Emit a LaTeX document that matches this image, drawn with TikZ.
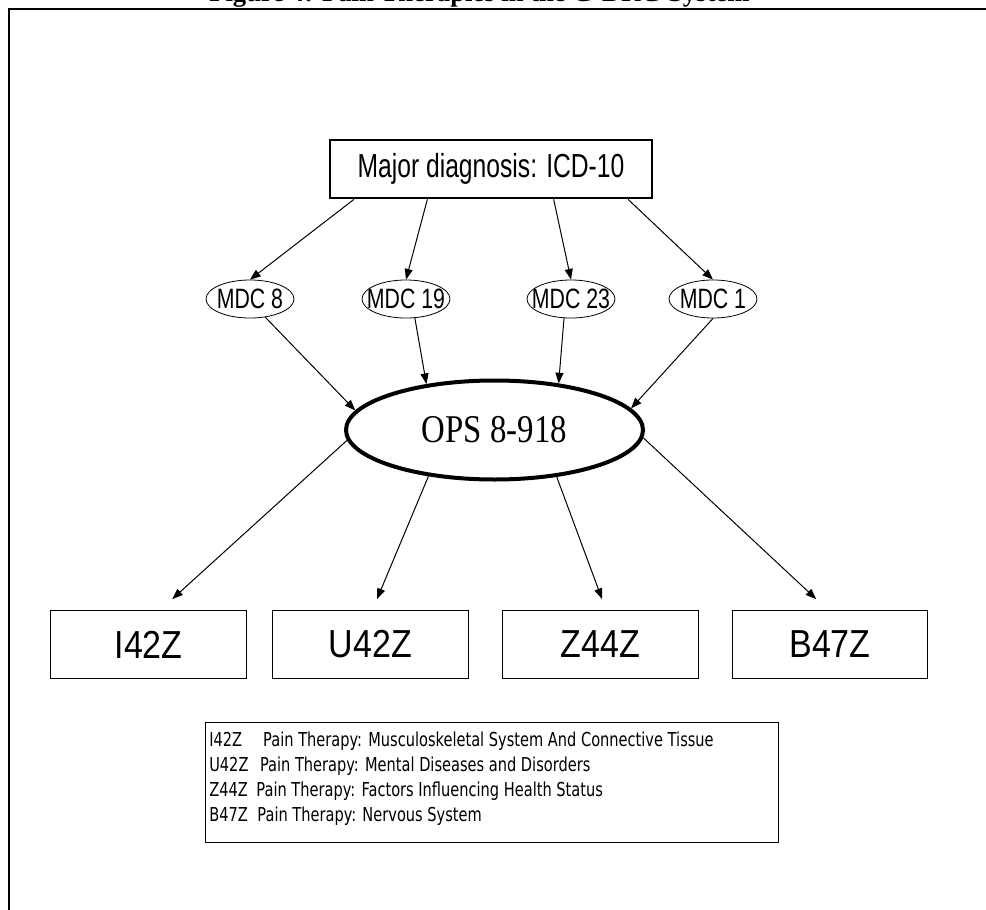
\documentclass[tikz,border=0pt]{standalone}
\usepackage{fontspec}
\setmainfont{Liberation Serif}
\newfontfamily\arialx[FakeStretch=0.74]{Liberation Sans}
\newfontfamily\arialm[FakeStretch=0.76]{Liberation Sans}
\newfontfamily\arialb[FakeStretch=0.87]{Liberation Sans}
\newfontfamily\timesx[FakeStretch=0.835]{Liberation Serif}
\newfontfamily\tahomax[FakeStretch=0.76]{DejaVu Sans}
\usetikzlibrary{shapes.geometric,arrows.meta,calc}
\begin{document}
\begin{tikzpicture}[x=0.75pt,y=-0.75pt,
  arr/.style={-{Triangle[length=8pt,width=6pt]}, line width=0.75pt},
  mdc/.style={ellipse, draw, line width=0.6pt, minimum width=66pt, minimum height=28.5pt, inner sep=0pt},
  mdctext/.style={font=\arialm\fontsize{21}{24}\selectfont},
  drg/.style={rectangle, draw, line width=0.9pt, minimum width=146.8pt, minimum height=50.7pt, inner sep=0pt, font=\arialb\fontsize{29.3}{30}\selectfont}]
\useasboundingbox (0,0) rectangle (986,910);
% cut-off title and frame
\node[anchor=base west, font=\bfseries\fontsize{20}{24}\selectfont, inner sep=0pt] (title) at (209,1.5) {Figure 4: Pain Therapies in the G-DRG System};
\coordinate (fbl) at (9,912);
\coordinate (ftl) at (9,9);
\coordinate (ftr) at (988,9);
\draw[line width=1.5pt] (fbl) -- (ftl) -- (ftr);
% top box
\node[draw, line width=2pt, minimum width=241.5pt, minimum height=43.5pt, inner sep=0pt, font=\arialx\fontsize{25}{30}\selectfont] (icd) at (491,169) {Major diagnosis: ICD-10};
% MDC ellipses
\node[mdc, label={[mdctext]center:MDC 8}] (m8) at (250,299) {};
\node[mdc, label={[mdctext]center:MDC 19}] (m19) at (406,299) {};
\node[mdc, label={[mdctext]center:MDC 23}] (m23) at (571,299) {};
\node[mdc, label={[mdctext]center:MDC 1}] (m1) at (713,299) {};
% OPS
\node[ellipse, draw, line width=3pt, minimum width=222.75pt, minimum height=74.25pt, inner sep=0pt, label={[font=\timesx\fontsize{29.5}{32}\selectfont]center:OPS 8-918}] (ops) at (494.5,430) {};
% DRG boxes
\node[drg] (i42) at (148.6,644.5) {I42Z};
\node[drg] (u42) at (370.3,644.5) {U42Z};
\node[drg] (z44) at (600.5,644.5) {Z44Z};
\node[drg] (b47) at (830,644.5) {B47Z};
% legend
\node[draw, line width=0.6pt, anchor=north west, minimum width=429.75pt, minimum height=90pt, inner sep=0pt] (legend) at (205,722) {};
\node[anchor=north west, align=left, inner sep=0pt, font=\tahomax\fontsize{14.4}{18.75}\selectfont] (legtext) at ($(legend.north west)+(4,10)$) {I42Z\hspace{1.1em}Pain Therapy: Musculoskeletal System And Connective Tissue\\U42Z\hspace{0.6em}Pain Therapy: Mental Diseases and Disorders\\Z44Z\hspace{0.45em}Pain Therapy: Factors Influencing Health Status\\B47Z\hspace{0.5em}Pain Therapy: Nervous System};
% arrows top -> MDC
\draw[arr] ($(icd.south west)!0.078!(icd.south east)$) -- (m8.north);
\draw[arr] ($(icd.south west)!0.304!(icd.south east)$) -- (m19.north);
\draw[arr] ($(icd.south west)!0.693!(icd.south east)$) -- (m23.north);
\draw[arr] ($(icd.south west)!0.922!(icd.south east)$) -- (m1.north);
% MDC -> OPS
\draw[arr] (m8.-50) -- (ops.172);
\draw[arr] (m19.-65) -- (ops.146.7);
\draw[arr] (m23.-110) -- (ops.36.3);
\draw[arr] (m1.-90) -- (ops.9.6);
% OPS -> DRG
\coordinate (e1) at ($(i42.north west)!0.62!(i42.north east)+(0,-11)$);
\coordinate (e2) at ($(u42.north west)!0.534!(u42.north east)+(0,-11)$);
\coordinate (e3) at ($(z44.north west)!0.508!(z44.north east)+(0,-11)$);
\coordinate (e4) at ($(b47.north west)!0.43!(b47.north east)+(0,-11)$);
\draw[arr] (ops.-176) -- (e1);
\draw[arr] (ops.-145.9) -- (e2);
\draw[arr] (ops.-37.9) -- (e3);
\draw[arr] (ops.-3.9) -- (e4);
\end{tikzpicture}
\end{document}
